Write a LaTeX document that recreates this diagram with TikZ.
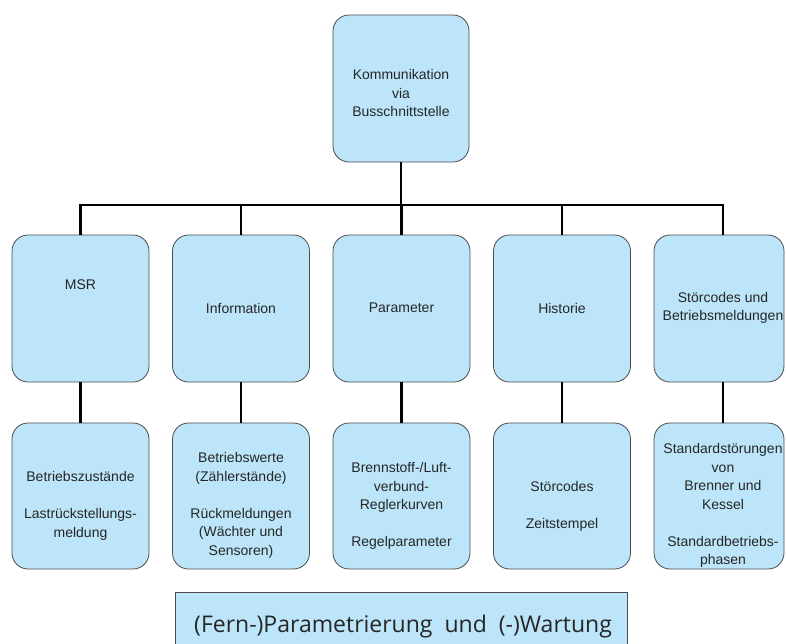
\documentclass[tikz,border=0pt]{standalone}
\usepackage{fontspec}
\setmainfont{Liberation Sans}
\newfontfamily\bottomfont{Open Sans}
\definecolor{boxblue}{RGB}{189,229,249}
\definecolor{boxline}{RGB}{75,75,75}
\begin{document}
\begin{tikzpicture}[x=1pt,y=-1pt,
  box/.style={draw=boxline, line width=0.8pt, fill=boxblue, rounded corners=16pt, inner sep=0pt},
  conn/.style={line width=2.4pt, black},
  lbl/.style={align=center, font=\fontsize{14}{18.5}\selectfont, inner sep=0pt, text=black!85}]
\useasboundingbox (0,0) rectangle (786,643);
\clip (0,0) rectangle (786,643);
% top
\node[box, minimum width=136pt, minimum height=147pt] (top) at (401,88.5) {};
\node[lbl] (toptxt) at (401,93) {Kommunikation\\via\\Busschnittstelle};
% row 1
\node[box, minimum width=137pt, minimum height=147pt] (msrA) at (80.5,308.5) {};
\node[box, minimum width=137pt, minimum height=147pt] (infoA) at (241,308.5) {};
\node[box, minimum width=137pt, minimum height=147pt] (parA) at (401.5,308.5) {};
\node[box, minimum width=137pt, minimum height=147pt] (histA) at (562,308.5) {};
\node[box, minimum width=130pt, minimum height=147pt] (stoerA) at (719,308.5) {};
\node[lbl] (msrAt) at (80.5,285) {MSR};
\node[lbl] (infoAt) at (241,308) {Information};
\node[lbl] (parAt) at (401.5,308) {Parameter};
\node[lbl] (histAt) at (562,308) {Historie};
\node[lbl] (stoerAt) at (723,308) {Störcodes und\\Betriebsmeldungen};
% row 2
\node[box, minimum width=137pt, minimum height=146pt] (msrB) at (80.5,496) {};
\node[box, minimum width=137pt, minimum height=146pt] (infoB) at (241,496) {};
\node[box, minimum width=137pt, minimum height=146pt] (parB) at (401.5,496) {};
\node[box, minimum width=137pt, minimum height=146pt] (histB) at (562,496) {};
\node[box, minimum width=130pt, minimum height=146pt] (stoerB) at (719,496) {};
\node[lbl] (msrBt) at (80.5,506) {Betriebszustände\\[18.5pt]Lastrückstellungs-\\meldung};
\node[lbl] (infoBt) at (241,505.5) {Betriebswerte\\(Zählerstände)\\[18.5pt]Rückmeldungen\\(Wächter und\\Sensoren)};
\node[lbl] (parBt) at (401.5,506) {Brennstoff-/Luft-\\verbund-\\Reglerkurven\\[18.5pt]Regelparameter};
\node[lbl] (histBt) at (562,506) {Störcodes\\[18.5pt]Zeitstempel};
\node[lbl] (stoerBt) at (723,505.5) {Standardstörungen\\von\\Brenner und\\Kessel\\[18.5pt]Standardbetriebs-\\phasen};
% bottom
\node[draw=boxline, fill=boxblue, line width=0.8pt, minimum width=452pt, minimum height=80pt, anchor=north west, inner sep=0pt] (wart) at (175,592) {};
\node[inner sep=0pt, font=\bottomfont\fontsize{23}{27}\selectfont, text=black!85] (warttxt) at (403,627) {(Fern-)Parametrierung\ \ und\ \ (-)Wartung};
% connectors
\coordinate (busL) at (80.5,205);
\coordinate (busR) at (723,205);
\draw[conn] (top.south) -- (top.south |- busL);
\draw[conn] (msrA.north) -- (busL) -- (busR) -- (stoerA.north -| busR);
\draw[conn] (infoA.north) -- (infoA.north |- busL);
\draw[conn] (parA.north) -- (parA.north |- busL);
\draw[conn] (histA.north) -- (histA.north |- busL);
\draw[conn] (msrA.south) -- (msrB.north);
\draw[conn] (infoA.south) -- (infoB.north);
\draw[conn] (parA.south) -- (parB.north);
\draw[conn] (histA.south) -- (histB.north);
\draw[conn] (stoerA.south -| busR) -- (stoerB.north -| busR);
\end{tikzpicture}
\end{document}
